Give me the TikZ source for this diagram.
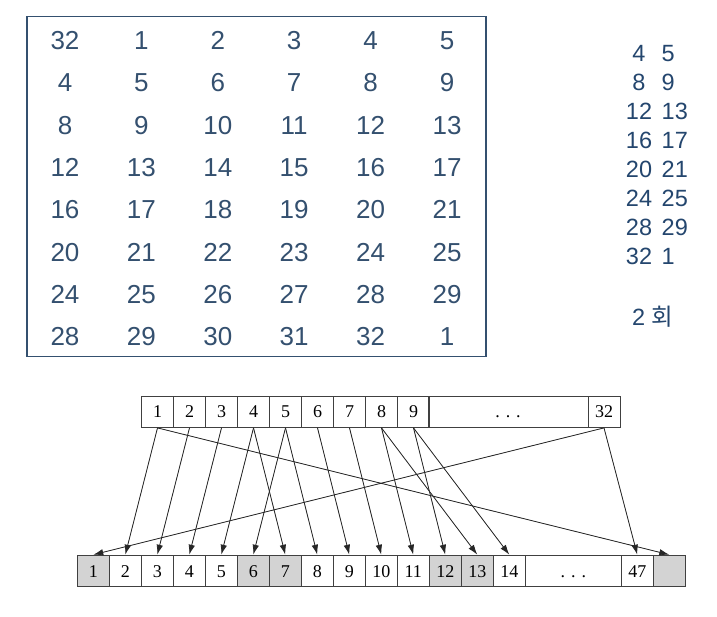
\documentclass[tikz,border=0pt]{standalone}
\usepackage{fontspec}
\setmainfont{Liberation Serif}
\newfontfamily\tabfont{Liberation Sans}
\newfontfamily\krfont{Noto Sans CJK KR}
\usetikzlibrary{arrows.meta}
\definecolor{tblue}{HTML}{34506F}
\definecolor{rblue}{HTML}{24466E}
\definecolor{cellgray}{HTML}{D3D3D3}
\begin{document}
\begin{tikzpicture}[x=1pt,y=-1pt,
  cell/.style={draw=black!75, line width=0.9pt, minimum width=32pt, minimum height=31.5pt, inner sep=0pt, text height=12.2pt, text depth=0pt, font=\fontsize{18}{18}\selectfont},
  gcell/.style={cell, fill=cellgray},
  arr/.style={-{Latex[length=10pt,width=6.5pt]}, line width=0.8pt, draw=black!85, fill=black!85},
  tnum/.style={text=tblue, font=\tabfont\fontsize{26}{26}\selectfont, inner sep=0pt},
  rnum/.style={text=rblue, font=\tabfont\fontsize{23.5}{23.5}\selectfont, inner sep=0pt},
]
\useasboundingbox (0,0) rectangle (717,616);
\fill[white] (0,0) rectangle (717,616);
% table
\node[draw=tblue, line width=1.4pt, minimum width=459pt, minimum height=340pt, inner sep=0pt] (tbl) at (256.4,186.7) {};
\foreach \r in {0,...,7} {
  \foreach \c in {0,...,5} {
    \pgfmathtruncatemacro\v{mod(4*\r+\c+31,32)+1}
    \node[tnum] (t\r\c) at (65+76.4*\c, 40.7+42.3*\r) {\v};
  }
}
% right column
\foreach \a/\b [count=\k from 0] in {4/5,8/9,12/13,16/17,20/21,24/25,28/29,32/1} {
  \node[rnum] (ra\k) at (639, 53.3+29.06*\k) {\a};
  \node[rnum, anchor=west] (rb\k) at (661.5, 53.3+29.06*\k) {\b};
}
\node[rnum, anchor=west] (cnt) at (632, 316.7) {2 {\krfont 회}};
% top row of cells
\foreach \j in {1,...,9} {
  \node[cell] (a\j) at (157.5+32*\j-32, 411.7) {\j};
}
\node[cell, minimum width=160pt] (adots) at (508, 411.7) {.\hspace{6pt}.\hspace{6pt}.};
\node[cell] (a32) at (604, 411.7) {32};
% bottom row of cells
\foreach \i in {1,...,14} {
  \ifnum\i=1 \def\st{gcell}\else
  \ifnum\i=6 \def\st{gcell}\else
  \ifnum\i=7 \def\st{gcell}\else
  \ifnum\i=12 \def\st{gcell}\else
  \ifnum\i=13 \def\st{gcell}\else
  \def\st{cell}\fi\fi\fi\fi\fi
  \node[\st] (b\i) at (93.3+32*\i-32, 570.9) {\i};
}
\node[cell, minimum width=96pt] (bdots) at (573.3, 570.9) {.\hspace{6pt}.\hspace{6pt}.};
\node[cell] (b47) at (637.3, 570.9) {47};
\node[gcell] (b48) at (669.3, 570.9) {};
% connectors
\foreach \s/\t in {1/2,1/48,2/3,3/4,4/5,4/7,5/6,5/8,6/9,7/10,8/11,8/13,9/12,9/14,32/1,32/47} {
  \draw[arr] (a\s.south) -- (b\t.north);
}
\end{tikzpicture}
\end{document}
